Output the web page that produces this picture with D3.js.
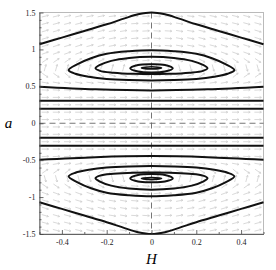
<!DOCTYPE html>
<html>
<head>
<meta charset="utf-8">
<script src="https://cdn.jsdelivr.net/npm/d3@7"></script>
<style>
  body { margin: 0; background: #fff; }
  .axis text { font-family: "Liberation Serif", serif; font-size: 8px; fill: #222; }
  .axis path, .axis line { stroke: #444; stroke-width: 0.8; }
</style>
</head>
<body>
<div id="chart"></div>
<script>
// axis ticks
const xMajor = [-0.4, -0.2, 0, 0.2, 0.4];
const xMinor = [-0.5, -0.3, -0.1, 0.1, 0.3, 0.5];
const yMajor = [-1.5, -1, -0.5, 0, 0.5, 1, 1.5];
const yMinor = [-1.4, -1.3, -1.2, -1.1, -0.9, -0.8, -0.7, -0.6, -0.4, -0.3, -0.2, -0.1,
                0.1, 0.2, 0.3, 0.4, 0.6, 0.7, 0.8, 0.9, 1.1, 1.2, 1.3, 1.4];

// open trajectories [H, a]
const topCurve = [[-0.5,1.07],[-0.4,1.16],[-0.3,1.25],[-0.2,1.34],[-0.12,1.42],[-0.06,1.475],[0,1.5],
                  [0.06,1.475],[0.12,1.42],[0.2,1.34],[0.3,1.25],[0.4,1.16],[0.5,1.07]];
const bottomCurve = [[-0.5,-1.07],[-0.4,-1.16],[-0.3,-1.25],[-0.2,-1.34],[-0.12,-1.42],[-0.06,-1.475],[0,-1.5],
                     [0.06,-1.475],[0.12,-1.42],[0.2,-1.34],[0.3,-1.25],[0.4,-1.16],[0.5,-1.07]];
const upperBend = [[-0.5,0.495],[-0.25,0.46],[0,0.445],[0.25,0.46],[0.5,0.495]];
const lowerBend = [[-0.5,-0.495],[-0.25,-0.46],[0,-0.445],[0.25,-0.46],[0.5,-0.495]];
const flatLines = [
  [[-0.5,0.305],[0.5,0.305]],
  [[-0.5,0.197],[0.5,0.197]],
  [[-0.5,-0.197],[0.5,-0.197]],
  [[-0.5,-0.305],[0.5,-0.305]]
];

// closed orbits round the two centres
const orbitOuterUp = [[0,0.99],[0.1,0.975],[0.2,0.94],[0.27,0.88],[0.33,0.80],[0.37,0.72],[0.34,0.67],[0.28,0.63],
                      [0.2,0.60],[0.1,0.585],[0,0.58],[-0.1,0.585],[-0.2,0.60],[-0.28,0.63],[-0.34,0.67],
                      [-0.37,0.72],[-0.33,0.80],[-0.27,0.88],[-0.2,0.94],[-0.1,0.975]];
const orbitMidUp = [[0,0.90],[0.1,0.885],[0.18,0.845],[0.23,0.79],[0.25,0.745],[0.23,0.71],[0.17,0.685],[0.08,0.67],
                    [0,0.668],[-0.08,0.67],[-0.17,0.685],[-0.23,0.71],[-0.25,0.745],[-0.23,0.79],[-0.18,0.845],[-0.1,0.885]];
const orbitInnerUp = [[0,0.80],[0.06,0.79],[0.095,0.745],[0.06,0.70],[0,0.688],[-0.06,0.70],[-0.095,0.745],[-0.06,0.79]];
const orbitTinyUp = [[0,0.765],[0.045,0.75],[0,0.737],[-0.045,0.75]];
const orbitOuterDn = [[0,-0.99],[0.1,-0.975],[0.2,-0.94],[0.27,-0.88],[0.33,-0.80],[0.37,-0.72],[0.34,-0.67],[0.28,-0.63],
                      [0.2,-0.60],[0.1,-0.585],[0,-0.58],[-0.1,-0.585],[-0.2,-0.60],[-0.28,-0.63],[-0.34,-0.67],
                      [-0.37,-0.72],[-0.33,-0.80],[-0.27,-0.88],[-0.2,-0.94],[-0.1,-0.975]];
const orbitMidDn = [[0,-0.90],[0.1,-0.885],[0.18,-0.845],[0.23,-0.79],[0.25,-0.745],[0.23,-0.71],[0.17,-0.685],[0.08,-0.67],
                    [0,-0.668],[-0.08,-0.67],[-0.17,-0.685],[-0.23,-0.71],[-0.25,-0.745],[-0.23,-0.79],[-0.18,-0.845],[-0.1,-0.885]];
const orbitInnerDn = [[0,-0.80],[0.06,-0.79],[0.095,-0.745],[0.06,-0.70],[0,-0.688],[-0.06,-0.70],[-0.095,-0.745],[-0.06,-0.79]];
const orbitTinyDn = [[0,-0.765],[0.045,-0.75],[0,-0.737],[-0.045,-0.75]];

// direction field: grid and tilt (degrees) per row of |a|, per band of |H| (0.5-0.4, ..., 0.1-0)
const arrowCols = [-0.475,-0.425,-0.375,-0.325,-0.275,-0.225,-0.175,-0.125,-0.075,-0.025,
                   0.025,0.075,0.125,0.175,0.225,0.275,0.325,0.375,0.425,0.475];
const arrowRows = [0.05,0.15,0.25,0.35,0.45,0.55,0.65,0.75,0.85,0.95,1.05,1.15,1.25,1.35,1.45];
const arrowTilt = [
  [0,0,0,0,0],
  [0,0,0,0,0],
  [0,0,0,0,0],
  [0,0,0,0,0],
  [-3,-3,-2,-1,0],
  [-10,-10,-8,-5,-2],
  [-35,-40,-35,-20,-6],
  [75,75,75,75,75],
  [35,35,28,16,5],
  [20,20,18,12,4],
  [18,17,15,10,4],
  [17,16,14,10,4],
  [16,15,13,9,3],
  [15,14,12,8,3],
  [14,13,11,7,2]
];

const margin = {top: 12.5, right: 12.5, bottom: 36, left: 39.5},
    width = 276 - margin.left - margin.right,
    height = 270 - margin.top - margin.bottom;

const svg = d3.select("#chart")
    .append("svg")
    .attr("width", 276)
    .attr("height", 270)
    .append("g")
    .attr("transform", `translate(${margin.left},${margin.top})`);

const x = d3.scaleLinear().domain([-0.5, 0.5]).range([0, width]);
const y = d3.scaleLinear().domain([-1.5, 1.5]).range([height, 0]);

// frame
svg.append("rect")
    .attr("width", width)
    .attr("height", height)
    .attr("fill", "none")
    .attr("stroke", "#aaa")
    .attr("stroke-width", 0.8);

// arrows
const arrows = [];
arrowRows.forEach((r, i) => {
    [r, -r].forEach(a => {
        arrowCols.forEach(h => {
            const band = Math.min(4, Math.floor((0.5 - Math.abs(h)) / 0.1));
            let t = arrowTilt[i][band];
            if ((h > 0) !== (a < 0)) t = -t;
            arrows.push({h, a, t});
        });
    });
});

const arrowG = svg.append("g").attr("stroke", "#cfcfcf").attr("stroke-width", 0.8).attr("fill", "none");
arrows.forEach(d => {
    const rad = d.t * Math.PI / 180, L = 3.5;
    const cx = x(d.h), cy = y(d.a);
    const dx = Math.cos(rad) * L, dy = -Math.sin(rad) * L;
    const hx = cx + dx, hy = cy + dy;
    const back = rad + Math.PI;
    arrowG.append("path")
        .attr("d", `M${cx - dx},${cy - dy}L${hx},${hy}` +
            `M${hx + Math.cos(back - 0.5) * 2},${hy - Math.sin(back - 0.5) * 2}L${hx},${hy}` +
            `L${hx + Math.cos(back + 0.5) * 2},${hy - Math.sin(back + 0.5) * 2}`);
});

// dashed zero lines
svg.append("line")
    .attr("x1", x(0)).attr("x2", x(0))
    .attr("y1", 0).attr("y2", height)
    .attr("stroke", "#666").attr("stroke-width", 0.9)
    .attr("stroke-dasharray", "6,4");
svg.append("line")
    .attr("x1", 0).attr("x2", width)
    .attr("y1", y(0)).attr("y2", y(0))
    .attr("stroke", "#666").attr("stroke-width", 0.9)
    .attr("stroke-dasharray", "6,4");

// trajectories
const open = d3.line().x(d => x(d[0])).y(d => y(d[1])).curve(d3.curveCatmullRom);
const closed = d3.line().x(d => x(d[0])).y(d => y(d[1])).curve(d3.curveCatmullRomClosed);

[topCurve, bottomCurve, upperBend, lowerBend, ...flatLines].forEach(c => {
    svg.append("path")
        .attr("d", open(c))
        .attr("fill", "none")
        .attr("stroke", "#111")
        .attr("stroke-width", 2);
});

[orbitOuterUp, orbitMidUp, orbitInnerUp, orbitOuterDn, orbitMidDn, orbitInnerDn].forEach(c => {
    svg.append("path")
        .attr("d", closed(c))
        .attr("fill", "none")
        .attr("stroke", "#111")
        .attr("stroke-width", 2);
});

[orbitTinyUp, orbitTinyDn].forEach(c => {
    svg.append("path")
        .attr("d", closed(c))
        .attr("fill", "none")
        .attr("stroke", "#111")
        .attr("stroke-width", 1.6);
});

// axes
svg.append("g")
    .attr("class", "axis")
    .call(d3.axisLeft(y).tickValues(yMinor).tickSize(-2).tickFormat(""))
    .call(g => g.select(".domain").remove());
svg.append("g")
    .attr("class", "axis")
    .call(d3.axisLeft(y).tickValues(yMajor).tickSizeInner(-4).tickSizeOuter(0).tickPadding(4)
        .tickFormat(d => String(d)));

svg.append("g")
    .attr("class", "axis")
    .attr("transform", `translate(0,${height})`)
    .call(d3.axisBottom(x).tickValues(xMinor).tickSize(-2).tickFormat(""))
    .call(g => g.select(".domain").remove());
svg.append("g")
    .attr("class", "axis")
    .attr("transform", `translate(0,${height})`)
    .call(d3.axisBottom(x).tickValues(xMajor).tickSizeInner(-4).tickSizeOuter(0).tickPadding(5)
        .tickFormat(d => String(d)));

// axis titles
svg.append("text")
    .attr("x", -31)
    .attr("y", y(0) + 5)
    .attr("font-family", "Liberation Serif, serif")
    .attr("font-style", "italic")
    .attr("font-size", 15)
    .attr("text-anchor", "middle")
    .text("a");
svg.append("text")
    .attr("x", x(0))
    .attr("y", height + 30)
    .attr("font-family", "Liberation Serif, serif")
    .attr("font-style", "italic")
    .attr("font-size", 15)
    .attr("text-anchor", "middle")
    .text("H");
</script>
</body>
</html>
